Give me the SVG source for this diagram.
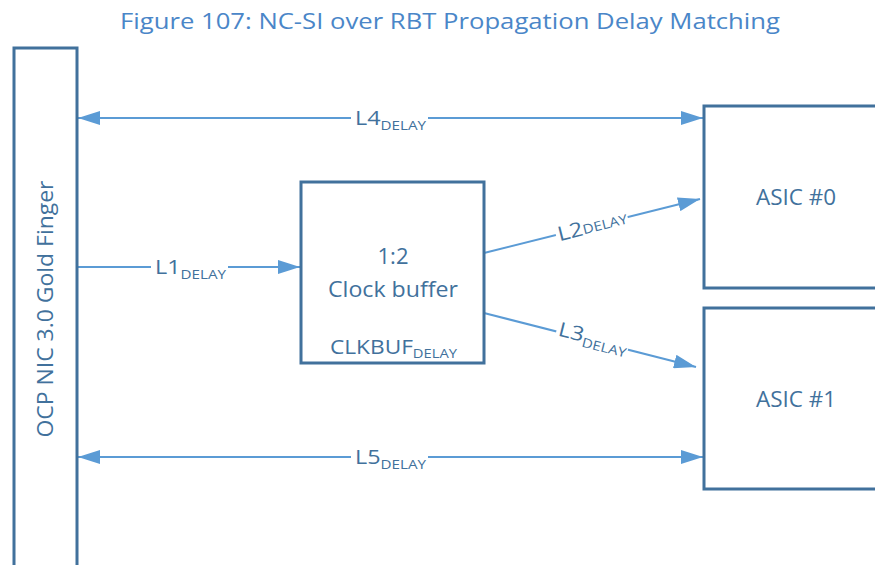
<svg xmlns="http://www.w3.org/2000/svg" width="875" height="565" viewBox="0 0 875 565">
<style>
.box{fill:#fff;stroke:#41719C;stroke-width:3}
.ln{stroke:#5B9BD5;stroke-width:2;fill:none}
.t{font-family:"Open Sans","Liberation Sans",sans-serif;fill:#41719C}
.lbl{font-size:20px}
.sub{font-size:13px}
.bg{fill:#fff}
</style>
<defs>
<marker id="ahb" viewBox="0 0 10 10" refX="10" refY="5" markerWidth="22" markerHeight="14" markerUnits="userSpaceOnUse" orient="auto-start-reverse" preserveAspectRatio="none">
<path d="M0,0 L10,5 L0,10 z" fill="#5B9BD5"/>
</marker>
</defs>
<rect width="875" height="565" fill="#fff"/>
<text class="t" x="450" y="29" font-size="22" style="fill:#4A86C8" text-anchor="middle" textLength="660" lengthAdjust="spacingAndGlyphs">Figure 107: NC-SI over RBT Propagation Delay Matching</text>
<g id="connectors">
<line class="ln" x1="78" y1="118" x2="703" y2="118" marker-start="url(#ahb)" marker-end="url(#ahb)"/>
<line class="ln" x1="78" y1="457" x2="703" y2="457" marker-start="url(#ahb)" marker-end="url(#ahb)"/>
<line class="ln" x1="78" y1="267" x2="300" y2="267" marker-end="url(#ahb)"/>
<line class="ln" x1="484" y1="253" x2="700" y2="199" marker-end="url(#ahb)"/>
<line class="ln" x1="484" y1="313" x2="696" y2="367" marker-end="url(#ahb)"/>
<g>
<rect class="bg" x="351" y="105" width="77" height="26"/>
<text class="t" x="355" y="125" textLength="71" lengthAdjust="spacingAndGlyphs"><tspan class="lbl">L4</tspan><tspan class="sub" dy="5">DELAY</tspan></text>
</g>
<g>
<rect class="bg" x="351" y="444" width="77" height="26"/>
<text class="t" x="355" y="464" textLength="71" lengthAdjust="spacingAndGlyphs"><tspan class="lbl">L5</tspan><tspan class="sub" dy="5">DELAY</tspan></text>
</g>
<g>
<rect class="bg" x="151" y="254" width="77" height="26"/>
<text class="t" x="155" y="274" textLength="71" lengthAdjust="spacingAndGlyphs"><tspan class="lbl">L1</tspan><tspan class="sub" dy="5">DELAY</tspan></text>
</g>
<g transform="translate(592,227) rotate(-14)">
<rect class="bg" x="-37" y="-13" width="74" height="24"/>
<text class="t" x="-35" y="6" textLength="71" lengthAdjust="spacingAndGlyphs"><tspan class="lbl">L2</tspan><tspan class="sub" dy="-1">DELAY</tspan></text>
</g>
<g transform="translate(592,341) rotate(14)">
<rect class="bg" x="-37" y="-13" width="74" height="24"/>
<text class="t" x="-35" y="3" textLength="71" lengthAdjust="spacingAndGlyphs"><tspan class="lbl">L3</tspan><tspan class="sub" dy="5">DELAY</tspan></text>
</g>
</g>
<g id="gold-finger">
<rect class="box" x="14" y="48" width="63" height="530"/>
<text class="t" font-size="22" transform="translate(53,309) rotate(-90)" text-anchor="middle" textLength="257" lengthAdjust="spacingAndGlyphs">OCP NIC 3.0 Gold Finger</text>
</g>
<g id="clock-buffer">
<rect class="box" x="301" y="182" width="183" height="181"/>
<text class="t" x="393" y="264" font-size="22" text-anchor="middle">1:2</text>
<text class="t" x="393" y="297" font-size="22" text-anchor="middle" textLength="130" lengthAdjust="spacingAndGlyphs">Clock buffer</text>
<text class="t" x="330" y="354" textLength="127" lengthAdjust="spacingAndGlyphs"><tspan font-size="20">CLKBUF</tspan><tspan class="sub" dy="4">DELAY</tspan></text>
</g>
<g id="asic0">
<rect class="box" x="704" y="106" width="190" height="182"/>
<text class="t" x="796" y="205" font-size="21" text-anchor="middle" textLength="80" lengthAdjust="spacingAndGlyphs">ASIC #0</text>
</g>
<g id="asic1">
<rect class="box" x="704" y="308" width="190" height="181"/>
<text class="t" x="796" y="407" font-size="21" text-anchor="middle" textLength="80" lengthAdjust="spacingAndGlyphs">ASIC #1</text>
</g>
</svg>
